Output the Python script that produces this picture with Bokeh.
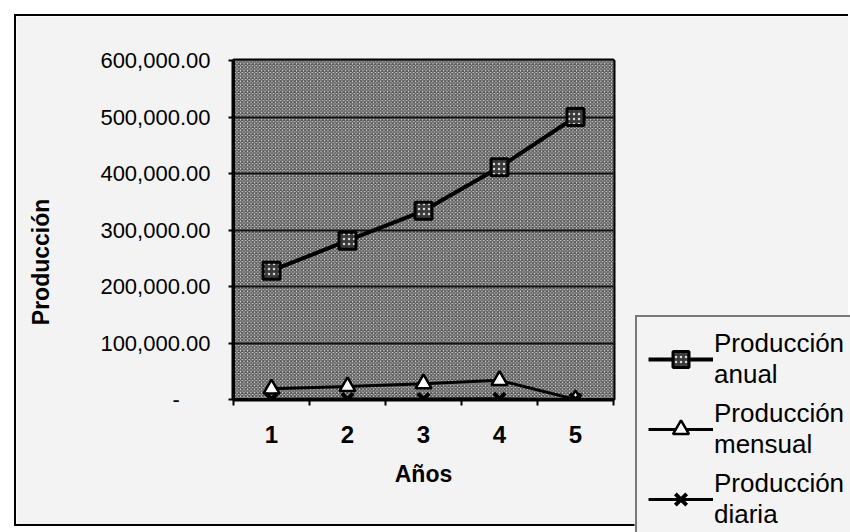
from bokeh.plotting import figure
from bokeh.models import (Legend, LegendItem, FixedTicker, CustomJSTickFormatter,
                          BoxAnnotation, Range1d)
from bokeh.embed import file_html
from bokeh.resources import INLINE

# ---- data ----
years = [1, 2, 3, 4, 5]
year_labels = ["1", "2", "3", "4", "5"]
prod_anual = [228000, 281000, 334000, 411000, 500000]
prod_mensual = [19000, 23000, 28000, 34000, 0]
prod_diaria = [620, 770, 920, 1130, 0]
y_ticks = [0, 100000, 200000, 300000, 400000, 500000, 600000]
series_names = ["Producción\nanual", "Producción\nmensual", "Producción\ndiaria"]

FONT = "Liberation Sans"
PAGE_BG = "#f3f3f3"

# series styles (shared by chart and legend)
anual_line = dict(line_color="black", line_width=4)
anual_mark = dict(marker="square", size=17, fill_color="#3a3a3a", hatch_pattern="dot",
                  hatch_color="#d8d8d8", hatch_scale=5, hatch_weight=1.2,
                  line_color="black", line_width=3)
mens_line = dict(line_color="black", line_width=3)
mens_mark = dict(marker="triangle", size=16, fill_color="white", line_color="black", line_width=2.5)
diar_line = dict(line_color="black", line_width=3)
diar_mark = dict(marker="x", size=16, line_color="black", line_width=4)

p = figure(width=834, height=512, output_backend="svg", toolbar_location=None,
           x_range=Range1d(0.5, 5.5), y_range=Range1d(0, 600000),
           min_border_left=217, min_border_right=237, min_border_top=44,
           min_border_bottom=129)
p.margin = (14, 0, 0, 14)
p.styles = {"border-left": "2px solid black", "border-top": "2px solid black",
            "border-bottom": "2px solid black"}
p.border_fill_color = PAGE_BG
p.background_fill_color = "#d8d8d8"
p.outline_line_color = "black"
p.outline_line_width = 4

# checkered plot area
p.add_layout(BoxAnnotation(level="image", fill_color="#d8d8d8", fill_alpha=1.0,
                           line_alpha=0, hatch_pattern="diagonal_cross",
                           hatch_scale=3.5, hatch_weight=1.3, hatch_color="#111111",
                           hatch_alpha=0.68))

# grid
p.xgrid.grid_line_color = None
p.ygrid.grid_line_color = "#111111"
p.ygrid.grid_line_width = 2
p.ygrid.ticker = FixedTicker(ticks=y_ticks)

# y axis
p.yaxis.ticker = FixedTicker(ticks=y_ticks)
p.yaxis.formatter = CustomJSTickFormatter(code="""
    if (tick == 0) { return "-\u00a0\u00a0\u00a0\u00a0\u00a0"; }
    return tick.toLocaleString("en-US", {minimumFractionDigits: 2, maximumFractionDigits: 2});
""")
p.yaxis.axis_label = "Producción" + "\u00a0" * 10
p.yaxis.axis_label_text_font = FONT
p.yaxis.axis_label_text_font_style = "bold"
p.yaxis.axis_label_text_font_size = "23px"
p.yaxis.axis_label_text_color = "black"
p.yaxis.axis_label_standoff = 43
p.yaxis.major_label_text_font = FONT
p.yaxis.major_label_text_font_size = "22px"
p.yaxis.major_label_text_color = "black"
p.yaxis.major_label_standoff = 18
p.yaxis.major_tick_out = 5
p.yaxis.major_tick_in = 0
p.yaxis.minor_tick_line_color = None
p.yaxis.axis_line_width = 3
p.yaxis.major_tick_line_width = 2

# x axis
p.xaxis.ticker = FixedTicker(ticks=years, minor_ticks=[0.5, 1.5, 2.5, 3.5, 4.5, 5.5])
p.xaxis.major_label_overrides = {y: l for y, l in zip(years, year_labels)}
p.xaxis.axis_label = "Años"
p.xaxis.axis_label_text_font = FONT
p.xaxis.axis_label_text_font_style = "bold"
p.xaxis.axis_label_text_font_size = "23px"
p.xaxis.axis_label_text_color = "black"
p.xaxis.axis_label_standoff = 15
p.xaxis.major_label_text_font = FONT
p.xaxis.major_label_text_font_size = "24px"
p.xaxis.major_label_text_font_style = "bold"
p.xaxis.major_label_text_color = "black"
p.xaxis.major_label_standoff = 20
p.xaxis.major_tick_out = 0
p.xaxis.major_tick_in = 0
p.xaxis.minor_tick_out = 6
p.xaxis.minor_tick_in = 0
p.xaxis.minor_tick_line_width = 2
p.xaxis.axis_line_width = 3

# series
p.line(years, prod_anual, **anual_line)
p.scatter(years, prod_anual, **anual_mark)
p.line(years, prod_mensual, **mens_line)
p.scatter(years, prod_mensual, **mens_mark)
p.line(years, prod_diaria, **diar_line)
p.scatter(years, prod_diaria, **diar_mark)

# ---- legend panel, placed over the chart's right side ----
lg = figure(width=232, height=218, output_backend="svg", toolbar_location=None,
            x_axis_location=None, y_axis_location=None, min_border=0,
            x_range=Range1d(100, 101), y_range=Range1d(-2, -1))
lg.styles = {"position": "absolute", "left": "634px", "top": "314px"}
lg.grid.visible = False
lg.outline_line_color = None
lg.background_fill_color = PAGE_BG
lg.border_fill_color = PAGE_BG
ra = [lg.line(years, prod_anual, **anual_line), lg.scatter(years, prod_anual, **anual_mark)]
rm = [lg.line(years, prod_mensual, **mens_line), lg.scatter(years, prod_mensual, **mens_mark)]
rd = [lg.line(years, prod_diaria, **diar_line), lg.scatter(years, prod_diaria, **diar_mark)]

legend = Legend(items=[
    LegendItem(label=series_names[0], renderers=ra),
    LegendItem(label=series_names[1], renderers=rm),
    LegendItem(label=series_names[2], renderers=rd),
], location="top_left")
legend.label_text_font = FONT
legend.label_text_font_size = "26px"
legend.label_text_color = "black"
legend.label_standoff = 1
legend.glyph_width = 65
legend.glyph_height = 40
legend.spacing = 8
legend.padding = 11
legend.margin = 1
legend.border_line_color = "black"
legend.border_line_width = 2.5
legend.background_fill_color = PAGE_BG
legend.background_fill_alpha = 1.0
lg.add_layout(legend, "center")

open("out.html", "w").write(file_html([p, lg], INLINE))
